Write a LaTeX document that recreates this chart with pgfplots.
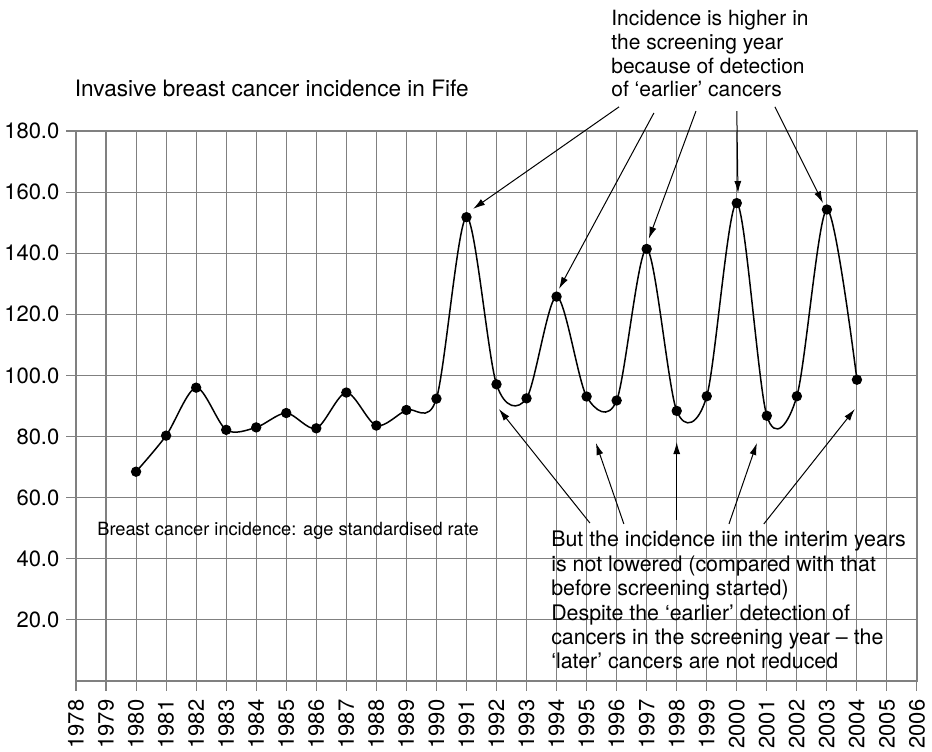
\documentclass[border=0pt]{standalone}
\usepackage{pgfplots}
\pgfplotsset{compat=1.18}
\usetikzlibrary{arrows.meta}
\usepackage{fontspec}
\setmainfont{TeX Gyre Heros}
\definecolor{gridgray}{gray}{0.5}
\begin{document}
\begin{tikzpicture}
\begin{axis}[
  scale only axis,
  width=420.5pt, height=275pt,
  xmin=1978, xmax=2006, ymin=0, ymax=180,
  xtick={1978,...,2006},
  ytick={20,40,...,180},
  grid=major,
  grid style={gridgray, line width=0.55pt},
  axis line style={gridgray, line width=0.55pt},
  tick pos=left,
  tick align=outside,
  major tick length=4.8pt,
  tick style={gridgray, line width=0.55pt},
  /pgf/number format/assume math mode=true,
  x tick label style={rotate=90, anchor=east, font=\fontsize{11pt}{13pt}\selectfont,
    xshift=-1pt, /pgf/number format/set thousands separator={}},
  y tick label style={font=\fontsize{11pt}{13pt}\selectfont,
    /pgf/number format/fixed, /pgf/number format/fixed zerofill,
    /pgf/number format/precision=1},
  clip=false,
]
\addplot[black, line width=0.75pt, smooth, tension=0.5, mark=*, mark size=2.2pt,
  mark options={solid, fill=black}] coordinates {
(1980,68.5) (1981,80.3) (1982,96.0) (1983,82.2) (1984,83.0) (1985,87.7)
(1986,82.7) (1987,94.4) (1988,83.6) (1989,88.7) (1990,92.4) (1991,151.8)
(1992,97.1) (1993,92.5) (1994,125.8) (1995,93.1) (1996,91.8) (1997,141.4)
(1998,88.4) (1999,93.2) (2000,156.4) (2001,86.8) (2002,93.2) (2003,154.3)
(2004,98.6)};

\node[anchor=base west, inner sep=0pt, font=\fontsize{11.3pt}{13pt}\selectfont]
  at (axis cs:1977.95,191.4) {Invasive breast cancer incidence in Fife};
\node[anchor=north west, inner sep=0pt, align=left,
  font=\fontsize{10.5pt}{11.85pt}\selectfont]
  at (axis cs:1995.81,219.6) {Incidence is higher in\\the screening year\\because of detection\\of ‘earlier’ cancers};
\node[anchor=west, inner sep=0pt, font=\fontsize{9.1pt}{11pt}\selectfont]
  at (axis cs:1978.7,49.1) {Breast cancer incidence: age standardised rate};
\node[anchor=north west, inner sep=0pt, align=left,
  font=\fontsize{10.7pt}{12.2pt}\selectfont]
  at (axis cs:1993.81,49.1) {But the incidence iin the interim years\\is not lowered (compared with that\\before screening started)\\Despite the ‘earlier’ detection of\\cancers in the screening year -- the\\‘later’ cancers are not reduced};

\tikzset{ann/.style={black, line width=0.5pt, -{Latex[length=6pt,width=3.5pt]}}}
\draw[ann] (axis cs:1996.08,187.9) -- (axis cs:1991.22,154.5);
\draw[ann] (axis cs:1997.24,185.9) -- (axis cs:1994.08,128.3);
\draw[ann] (axis cs:1998.64,186.5) -- (axis cs:1997.07,144.7);
\draw[ann] (axis cs:2000.0,186.5) -- (axis cs:2000.04,159.7);
\draw[ann] (axis cs:2001.27,187.9) -- (axis cs:2002.87,156.4);

\draw[ann] (axis cs:1995.11,51.7) -- (axis cs:1992.08,89.0);
\draw[ann] (axis cs:1996.24,51.4) -- (axis cs:1995.31,77.9);
\draw[ann] (axis cs:1998.0,52.7) -- (axis cs:1998.0,78.2);
\draw[ann] (axis cs:1999.74,51.4) -- (axis cs:2000.67,77.9);
\draw[ann] (axis cs:2000.90,51.4) -- (axis cs:2003.93,89.0);
\end{axis}
\pgfresetboundingbox
\useasboundingbox (-38pt,-35pt) rectangle (428pt,340.5pt);
\end{tikzpicture}
\end{document}
